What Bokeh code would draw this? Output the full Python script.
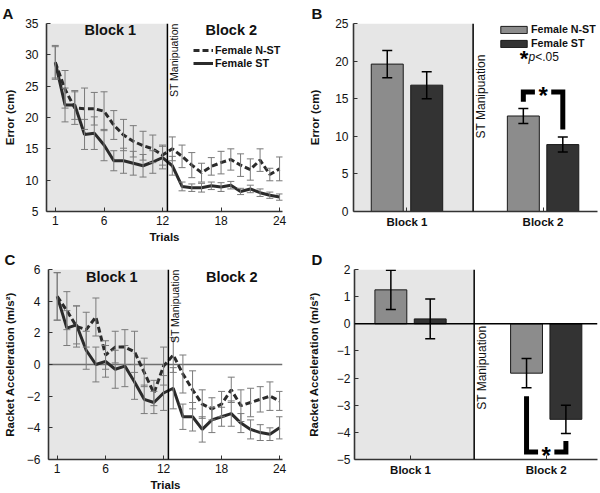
import numpy as np
from bokeh.plotting import figure
from bokeh.models import (ColumnDataSource, Whisker, TeeHead, BoxAnnotation, Span,
                          Label, FixedTicker)
from bokeh.layouts import row, column
from bokeh.embed import file_html
from bokeh.resources import INLINE

# ---------------- data ----------------
trials = list(range(1, 25))
trial_ticks = [1, 6, 12, 18, 24]

err_nst = [28.8, 24.5, 21.5, 21.4, 21.4, 21.0, 18.8, 17.2, 16.2, 15.5, 15.0, 14.0,
           15.0, 13.8, 12.4, 11.2, 12.2, 12.8, 13.3, 12.4, 11.7, 13.2, 10.9, 11.8]
err_nst_se = [2.7, 3.0, 2.6, 3.3, 2.6, 3.1, 2.3, 2.5, 2.5, 2.3, 2.2, 1.6,
              1.9, 1.8, 2.0, 1.5, 1.4, 1.8, 1.7, 1.8, 1.7, 1.8, 1.0, 1.9]
err_st = [28.8, 22.0, 22.0, 17.3, 17.5, 15.6, 13.1, 13.1, 12.7, 12.3, 12.9, 13.6,
          12.3, 9.0, 8.8, 8.8, 9.1, 8.9, 9.2, 8.2, 8.6, 8.0, 7.6, 7.3]
err_st_se = [2.5, 2.7, 2.3, 2.4, 2.6, 2.5, 1.6, 2.0, 1.9, 1.8, 1.8, 1.8,
             1.5, 0.7, 0.6, 0.7, 0.6, 0.7, 0.6, 0.5, 0.6, 0.6, 0.5, 0.5]

acc_nst = [4.3, 3.4, 2.4, 2.2, 3.0, 0.6, 1.1, 1.1, 0.8, -0.5, -1.8, -0.1,
           0.6, -0.6, -1.6, -2.5, -2.8, -2.5, -1.6, -2.6, -2.4, -2.2, -2.0, -2.3]
acc_nst_se = [1.5, 1.2, 1.3, 1.1, 1.2, 0.9, 1.0, 1.1, 1.3, 0.9, 0.8, 1.2,
              1.1, 1.2, 1.2, 0.9, 0.7, 0.8, 0.8, 1.0, 0.9, 0.8, 0.9, 0.6]
acc_st = [4.3, 2.3, 2.5, 0.9, 0.0, 0.2, -0.3, -0.1, -1.1, -2.2, -2.4, -1.8,
          -1.5, -3.3, -3.3, -4.1, -3.5, -3.3, -3.1, -3.7, -4.1, -4.3, -4.4, -4.0]
acc_st_se = [1.5, 1.1, 1.2, 1.2, 1.1, 1.0, 1.2, 1.3, 1.1, 0.9, 0.7, 1.1,
             1.3, 0.8, 0.9, 0.8, 0.8, 0.6, 0.8, 0.6, 0.6, 0.5, 0.4, 0.7]

blocks = ["Block 1", "Block 2"]
block_pos = [1, 2]
bar_err_nst = [19.6, 12.7]
bar_err_nst_se = [1.8, 1.0]
bar_err_st = [16.8, 8.9]
bar_err_st_se = [1.8, 1.0]
bar_acc_nst = [1.25, -1.82]
bar_acc_nst_se = [0.72, 0.54]
bar_acc_st = [0.18, -3.52]
bar_acc_st_se = [0.73, 0.52]

sig_b = [14.6, 15.9, 10.9]
sig_d = [-2.67, -4.72, -4.32]

manip_trial = 12.5
series_names = ["Female N-ST", "Female ST"]

# ---------------- style ----------------
FONT = "Liberation Sans"
C_NST = "#8c8c8c"
C_ST = "#333333"
LINE_C = "#2b2b2b"
SHADE = "#e6e6e6"
EB_GRAY = "#7a7a7a"
BAR_OFF = 0.145
BAR_W = 0.235


def make_fig(w, h, xr, yr, bl, br, bt, bb, letter, letter_off):
    p = figure(width=w, height=h, x_range=xr, y_range=yr, output_backend="svg",
               toolbar_location=None, min_border_left=bl, min_border_right=br,
               min_border_top=bt, min_border_bottom=bb, title=letter)
    p.title.text_font = FONT
    p.title.text_font_size = "15px"
    p.title.text_font_style = "bold"
    p.title.text_color = "#111111"
    p.title.align = "left"
    p.title.offset = letter_off
    p.title.standoff = 0
    p.title.vertical_align = "top"
    p.outline_line_color = None
    p.grid.visible = False
    for ax in (p.xaxis[0], p.yaxis[0]):
        ax.axis_line_color = "#333333"
        ax.axis_line_width = 1.6
        ax.major_tick_in = 4
        ax.major_tick_out = 0
        ax.major_tick_line_color = "#333333"
        ax.minor_tick_line_color = None
        ax.major_label_text_font = FONT
        ax.major_label_text_font_size = "12px"
        ax.major_label_text_color = "#111111"
        ax.axis_label_text_font = FONT
        ax.axis_label_text_font_size = "11.5px"
        ax.axis_label_text_font_style = "bold"
        ax.axis_label_text_color = "#111111"
    return p


def manip_label(p, x, y, size, align, baseline="top"):
    p.add_layout(Label(x=x, y=y, text="ST Manipuation", angle=np.pi / 2,
                       text_font=FONT, text_font_size=size, text_align=align,
                       text_baseline=baseline, x_offset=1, text_color="#111111"))


def line_panel(w, h, yr, bl, br, bt, bb, nst, nst_se, st, st_se, yticks, ylabel,
               ylab_standoff, title_y, legend, zero_line, letter):
    p = make_fig(w, h, (0.1, 24.3), yr, bl, br, bt, bb, letter, -bl + 2)
    p.add_layout(BoxAnnotation(right=manip_trial, fill_color=SHADE, fill_alpha=1.0,
                               line_color=None, level="underlay"))
    if zero_line:
        p.add_layout(Span(location=0, dimension="width", line_color="#6e6e6e",
                          line_width=1.5, level="underlay"))
    p.add_layout(Span(location=manip_trial, dimension="height", line_color="black",
                      line_width=1.5))
    for vals, se in ((nst, nst_se), (st, st_se)):
        src = ColumnDataSource(dict(x=trials,
                                    lo=[v - s for v, s in zip(vals, se)],
                                    hi=[v + s for v, s in zip(vals, se)]))
        p.add_layout(Whisker(source=src, base="x", lower="lo", upper="hi",
                             line_color=EB_GRAY, line_width=1, level="glyph",
                             upper_head=TeeHead(size=7, line_color=EB_GRAY, line_width=1),
                             lower_head=TeeHead(size=7, line_color=EB_GRAY, line_width=1)))
    kw_n = dict(legend_label=series_names[0]) if legend else {}
    kw_s = dict(legend_label=series_names[1]) if legend else {}
    p.line(trials, nst, line_color=LINE_C, line_width=3, line_dash="6 3", **kw_n)
    p.line(trials, st, line_color=LINE_C, line_width=3, **kw_s)
    p.xaxis.ticker = FixedTicker(ticks=trial_ticks)
    p.yaxis.ticker = FixedTicker(ticks=yticks)
    p.xaxis.axis_label = "Trials"
    p.yaxis.axis_label = ylabel
    p.xaxis.major_label_standoff = 4
    p.xaxis.axis_label_standoff = 3
    p.yaxis.major_label_standoff = 8
    p.yaxis.axis_label_standoff = ylab_standoff
    for txt, tx in (("Block 1", 6.65), ("Block 2", 19.05)):
        p.add_layout(Label(x=tx, y=title_y, text=txt, text_font=FONT,
                           text_font_size="14.5px", text_font_style="bold",
                           text_align="center", text_baseline="middle",
                           text_color="#111111"))
    manip_label(p, manip_trial, yr[1], "10.5px", "right")
    if legend:
        lg = p.legend[0]
        lg.location = (147, 142)
        lg.padding = 0
        lg.margin = 0
        lg.spacing = 1
        lg.border_line_color = None
        lg.background_fill_alpha = 0
        lg.glyph_width = 20
        lg.glyph_height = 12
        lg.label_height = 12
        lg.label_standoff = 2
        lg.label_text_font = FONT
        lg.label_text_font_size = "10.8px"
        lg.label_text_font_style = "bold"
        lg.label_text_color = "#111111"
    return p


def bar_panel(w, h, xr, yr, bl, br, bt, bb, manip_x, nst, nst_se, st, st_se, yticks,
              ylabel, ylab_standoff, ytick_standoff, sig, manip_y, legend, zero_line,
              letter):
    p = make_fig(w, h, xr, yr, bl, br, bt, bb, letter, -bl + 11)
    p.add_layout(BoxAnnotation(right=manip_x, fill_color=SHADE, fill_alpha=1.0,
                               line_color=None, level="underlay"))
    p.add_layout(Span(location=manip_x, dimension="height", line_color="black",
                      line_width=1.5))
    xn = [b - BAR_OFF for b in block_pos]
    xs = [b + BAR_OFF for b in block_pos]
    kw_n = dict(legend_label=series_names[0]) if legend else {}
    kw_s = dict(legend_label=series_names[1]) if legend else {}
    p.vbar(x=xn, top=nst, bottom=0, width=BAR_W, fill_color=C_NST,
           line_color="#1a1a1a", line_width=1, **kw_n)
    p.vbar(x=xs, top=st, bottom=0, width=BAR_W, fill_color=C_ST,
           line_color="#1a1a1a", line_width=1, **kw_s)
    if zero_line:
        p.add_layout(Span(location=0, dimension="width", line_color="black",
                          line_width=1.5))
    for xx, vals, se in ((xn, nst, nst_se), (xs, st, st_se)):
        src = ColumnDataSource(dict(x=xx, lo=[v - s for v, s in zip(vals, se)],
                                    hi=[v + s for v, s in zip(vals, se)]))
        p.add_layout(Whisker(source=src, base="x", lower="lo", upper="hi",
                             line_color="black", line_width=1.5, level="annotation",
                             upper_head=TeeHead(size=10, line_color="black", line_width=1.5),
                             lower_head=TeeHead(size=10, line_color="black", line_width=1.5)))
    xl, xr_ = xn[1], xs[1]
    mid = block_pos[1]
    gap = 0.06
    p.multi_line(xs=[[xl, xl, mid - gap], [mid + gap, xr_, xr_]],
                 ys=[[sig[0], sig[1], sig[1]], [sig[1], sig[1], sig[2]]],
                 line_color="black", line_width=5, line_join="miter", line_cap="butt")
    p.add_layout(Label(x=mid, y=sig[1], text="*", text_font=FONT, text_font_size="24px",
                       text_font_style="bold", text_align="center",
                       text_baseline="alphabetic", y_offset=-4, text_color="black"))
    p.xaxis.ticker = FixedTicker(ticks=block_pos)
    p.xaxis.major_label_overrides = {b: t for b, t in zip(block_pos, blocks)}
    p.xaxis.major_label_text_font_style = "bold"
    p.xaxis.major_label_text_font_size = "11.5px"
    p.xaxis.major_label_standoff = 4
    p.yaxis.ticker = FixedTicker(ticks=yticks)
    p.yaxis.axis_label = ylabel
    p.yaxis.major_label_standoff = ytick_standoff
    p.yaxis.axis_label_standoff = ylab_standoff
    manip_label(p, manip_x, manip_y, "12px", "center")
    if legend:
        lg = p.legend[0]
        lg.location = (144, 162)
        lg.padding = 0
        lg.margin = 0
        lg.spacing = 2
        lg.border_line_color = None
        lg.background_fill_alpha = 0
        lg.glyph_width = 33
        lg.glyph_height = 9
        lg.label_height = 12
        lg.label_standoff = 1
        lg.label_text_font = FONT
        lg.label_text_font_size = "10.7px"
        lg.label_text_font_style = "bold"
        lg.label_text_color = "#111111"
        p.add_layout(Label(x=1.86, y=20.77, text="*", text_font=FONT,
                           text_font_size="22px", text_font_style="bold",
                           text_align="center", text_baseline="alphabetic",
                           y_offset=-3, text_color="black"))
        p.add_layout(Label(x=1.893, y=20.6, text="p", text_font=FONT,
                           text_font_size="12px", text_font_style="italic",
                           text_align="left", text_baseline="middle", text_color="#111111"))
        p.add_layout(Label(x=1.893, y=20.6, x_offset=6.7, text="<.05", text_font=FONT,
                           text_font_size="12px", text_align="left",
                           text_baseline="middle", text_color="#111111"))
    return p


pa = line_panel(300, 245, (5, 35), 46, 18, 21, 33, err_nst, err_nst_se, err_st, err_st_se,
                [5, 10, 15, 20, 25, 30, 35], "Error (cm)", 6, 33.9, True, False, "A")
pb = bar_panel(300, 245, (0.607, 2.40), (0, 25), 53, 3, 23, 32, 1.486,
               bar_err_nst, bar_err_nst_se, bar_err_st, bar_err_st_se,
               [0, 5, 10, 15, 20, 25], "Error (cm)", 11, 5, sig_b, 15.3, True, False, "B")
pc = line_panel(300, 248, (-6, 6), 46, 18, 24, 32, acc_nst, acc_nst_se, acc_st, acc_st_se,
                [-6, -4, -2, 0, 2, 4, 6], "Racket Acceleration (m/s²)", 8, 5.52, False, True,
                "C")
pd_ = bar_panel(300, 248, (0.587, 2.378), (-5, 2), 54, 3, 23, 34, 1.469,
                bar_acc_nst, bar_acc_nst_se, bar_acc_st, bar_acc_st_se,
                [-5, -4, -3, -2, -1, 0, 1, 2], "Racket Acceleration (m/s²)", 14, 4, sig_d,
                -1.62, False, True, "D")

layout = column(row(pa, pb), row(pc, pd_))
open("out.html", "w").write(file_html(layout, INLINE))
